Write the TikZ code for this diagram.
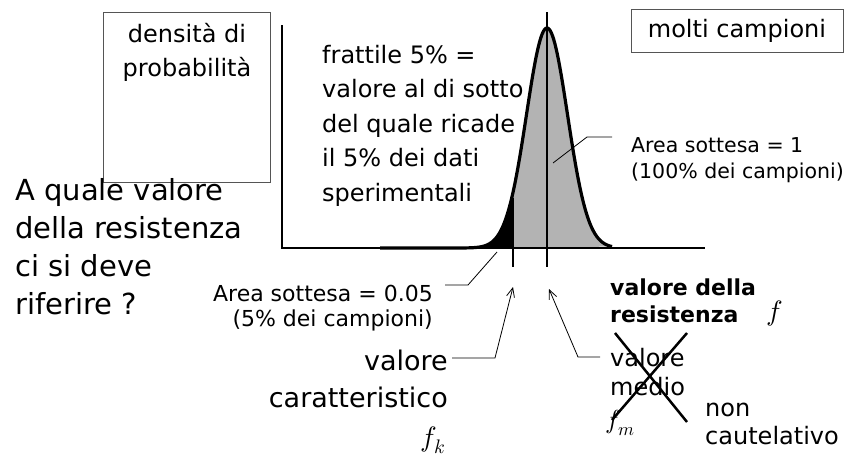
\documentclass[tikz,border=0pt]{standalone}
\usepackage{unicode-math}
\setmainfont{DejaVu Sans}
\usepackage{tikz}
\usetikzlibrary{arrows.meta,positioning}
\definecolor{areagray}{RGB}{179,179,179}
\definecolor{framegray}{RGB}{85,85,85}
\tikzstyle{leader} = [line width=0.8pt, ->, >={Straight Barb[length=9pt,width=8pt]}]
\tikzstyle{tick} = [line width=0.8pt]
\tikzstyle{framed} = [rectangle, draw=framegray, line width=1pt, inner sep=0pt]
\tikzstyle{txt} = [inner sep=0pt, align=left]
\newcommand{\gauss}[1]{248-220*exp(-min(((#1-547)/28.99)*((#1-547)/28.99),10))}

\begin{document}
\begin{tikzpicture}[x=1pt, y=-1pt]
\useasboundingbox (0,0) rectangle (855,458);

% Areas under the curve
\fill[areagray] (513,248) -- plot[domain=513:612, samples=80] (\x,{\gauss{\x}}) -- cycle;
\fill (380,248) -- plot[domain=380:513, samples=100] (\x,{\gauss{\x}}) -- (513,248) -- cycle;

% Axes
\coordinate (O) at (282,248);
\draw[line width=1.5pt] (282,25) -- (O) -- (705,248);

% Density curve
\draw[line width=3.2pt, line join=round] plot[domain=380:612, samples=200] (\x,{\gauss{\x}});

% Mean and characteristic value
\draw[line width=1.8pt] (547,12) -- (547,267);
\draw[line width=2.8pt] (513,198) -- (513,267);
\coordinate (tipk) at (513,287);
\coordinate (tipm) at (549,289);
\coordinate (tail) at (497,252);
\coordinate (bulk) at (553,163);

% Boxes
\node[framed, minimum width=167pt, minimum height=170pt, anchor=north west] (dens) at (103,12)
  {\parbox[c][170pt][t]{160pt}{\centering\fontsize{24}{34}\selectfont\vspace{11pt}densità di\\probabilità}};
\node[framed, minimum width=212pt, minimum height=43pt, font=\fontsize{24}{28}\selectfont] (molti) at (737,30.5) {molti campioni};

% Question
\node[txt, anchor=north west, font=\fontsize{29}{38}\selectfont] (quest) at (15,178)
  {A quale valore\\della resistenza\\ci si deve\\riferire ?};

% Quantile definition
\node[txt, anchor=north west, font=\fontsize{24}{34.5}\selectfont] (fratt) at (322,45)
  {frattile 5\% =\\valore al di sotto\\del quale ricade\\il 5\% dei dati\\sperimentali};

% Areas
\node[txt, anchor=north west, inner xsep=19pt, font=\fontsize{20.5}{26.5}\selectfont] (area1) at (612,137)
  {Area sottesa = 1\\(100\% dei campioni)};
\draw[tick] (area1.north west) -- ++(-25,0) -- (bulk);

\node[txt, align=right, anchor=north east, inner xsep=12pt, font=\fontsize{22}{25}\selectfont] (area05) at (445,285)
  {Area sottesa = 0.05\\(5\% dei campioni)};
\draw[tick] (area05.north east) -- ++(23,0) -- (tail);

% Characteristic value
\node[txt, align=right, anchor=north east, inner xsep=4pt, font=\fontsize{27}{37}\selectfont] (valcar) at (452,350)
  {valore\\caratteristico};
\node[font=\fontsize{28}{30}\selectfont] (fk) at (433,440) {$f_k$};
\draw[leader] ([yshift=-8pt]valcar.north east) -- ++(43,0) -- (tipk);

% Resistance and mean value
\node[txt, anchor=north west, font=\fontsize{22}{27}\selectfont\bfseries] (valres) at (610,279) {valore della\\resistenza};
\node[font=\fontsize{28}{30}\selectfont] (f) at (775,313) {$f$};

\node[txt, anchor=north west, inner xsep=10pt, font=\fontsize{24}{29}\selectfont] (valmed) at (600,348) {valore\\medio};
\node[font=\fontsize{26}{28}\selectfont] (fm) at (620,423) {$f_m$};
\draw[leader] ([yshift=-9pt]valmed.north west) -- ++(-22,0) -- (tipm);
\draw[line width=2.5pt] (612,420) -- (687,333);
\draw[line width=2.5pt] (615,333) -- (687,422);

\node[txt, anchor=north west, font=\fontsize{24}{28}\selectfont] (noncaut) at (705,403) {non\\cautelativo};
\end{tikzpicture}
\end{document}
